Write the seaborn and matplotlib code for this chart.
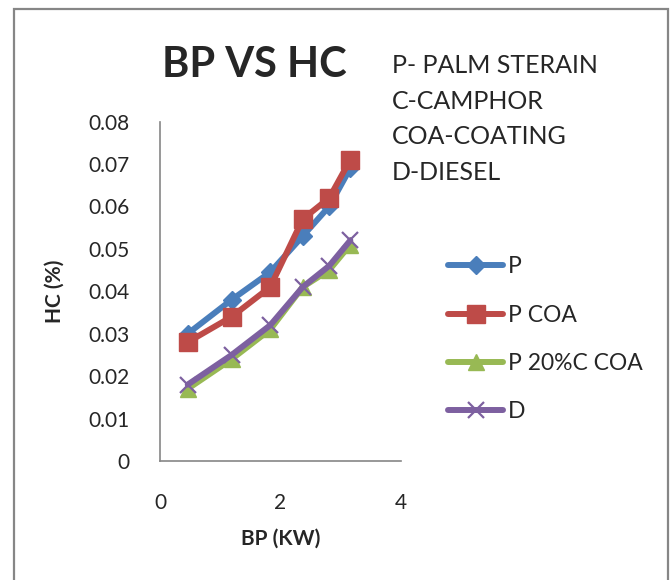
import matplotlib
matplotlib.use("Agg")
import matplotlib.pyplot as plt
import matplotlib.patches as mpatches
import seaborn as sns

# ── 数据 ─────────────────────────────────────────────────────────────────────
bp_kw = [0.46, 1.19, 1.83, 2.37, 2.81, 3.16]

hc_p = [0.030, 0.038, 0.0445, 0.053, 0.060, 0.069]
hc_p_coa = [0.028, 0.034, 0.041, 0.057, 0.062, 0.071]
hc_p20c_coa = [0.017, 0.024, 0.031, 0.041, 0.045, 0.051]
hc_diesel = [0.018, 0.025, 0.032, 0.041, 0.046, 0.052]

series_labels = ["P", "P COA", "P 20%C COA", "D"]
y_ticks = [0, 0.01, 0.02, 0.03, 0.04, 0.05, 0.06, 0.07, 0.08]
y_tick_labels = ["0", "0.01", "0.02", "0.03", "0.04", "0.05", "0.06", "0.07", "0.08"]
x_ticks = [0, 2, 4]
notes = ["P- PALM STERAIN", "C-CAMPHOR", "COA-COATING", "D-DIESEL"]

# ── 样式 ─────────────────────────────────────────────────────────────────────
sns.set_theme(style="white")
plt.rcParams["font.family"] = ["Lato", "DejaVu Sans"]

styles = [
    dict(color="#4A7EBB", marker="D", markersize=9),
    dict(color="#BE4B48", marker="s", markersize=13),
    dict(color="#98B954", marker="^", markersize=12),
    dict(color="#7D60A0", marker="x", markersize=12, markeredgewidth=1.6),
]

fig = plt.figure(figsize=(6.71, 5.8), dpi=100)
ax = fig.add_axes([0.2385, 0.2052, 0.359, 0.5853])

for vals, lab, st in zip([hc_p, hc_p_coa, hc_p20c_coa, hc_diesel], series_labels, styles):
    sns.lineplot(
        x=bp_kw, y=vals, ax=ax, label=lab,
        color=st["color"], marker=st["marker"], markersize=st["markersize"],
        markeredgecolor=st["color"], markeredgewidth=st.get("markeredgewidth", 1.0),
        linewidth=4.3, solid_capstyle="round",
    )

ax.set_xlim(0, 4)
ax.set_ylim(0, 0.08)
ax.set_xticks(x_ticks)
ax.set_xticklabels([str(t) for t in x_ticks], fontsize=15)
ax.set_yticks(y_ticks)
ax.set_yticklabels(y_tick_labels, fontsize=15)
ax.tick_params(axis="x", length=0, pad=23)
ax.tick_params(axis="y", length=0, pad=22)
for side in ("top", "right"):
    ax.spines[side].set_visible(False)
for side in ("left", "bottom"):
    ax.spines[side].set_color("#868686")
    ax.spines[side].set_linewidth(1.2)

ax.set_xlabel("BP (KW)", fontsize=15, fontweight="bold", labelpad=11)
ax.set_ylabel("HC (%)", fontsize=15, fontweight="bold", labelpad=17)

ax.legend(
    loc="upper left", bbox_to_anchor=(0.668, 0.558), bbox_transform=fig.transFigure,
    frameon=False, fontsize=16.5, handlelength=2.4, handletextpad=0.2,
    labelspacing=1.19, borderpad=0, borderaxespad=0,
)

fig.text(0.379, 0.867, "BP VS HC", fontsize=30, fontweight="bold", ha="center", va="baseline")
for i, line in enumerate(notes):
    fig.text(0.584, 0.874 - i * 0.0615, line, fontsize=18, ha="left", va="baseline")

# 外框
fig.patches.append(mpatches.Rectangle(
    (13.5 / 671, -0.01), 654 / 671, 1 - 8.5 / 580 + 0.01,
    transform=fig.transFigure, fill=False, edgecolor="#868686", linewidth=1.6,
))

plt.savefig("out.png", dpi=100)
